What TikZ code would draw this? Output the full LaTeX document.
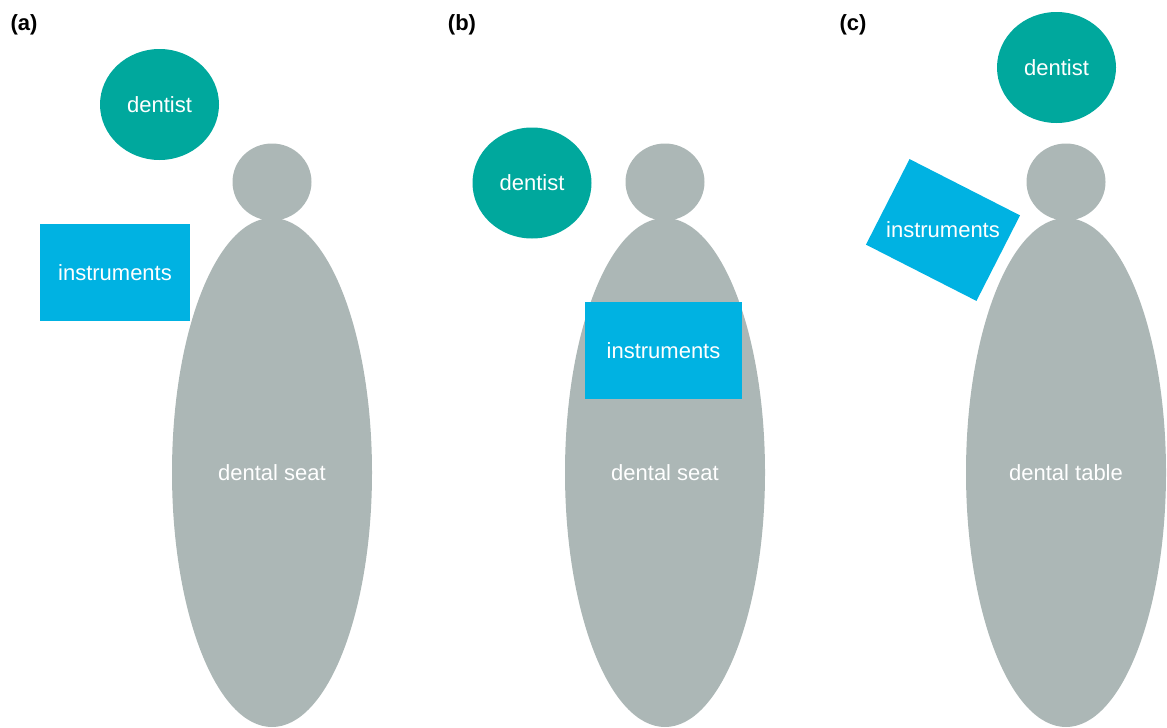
\documentclass[tikz,border=0pt]{standalone}
\usepackage{fontspec}
\setmainfont{Liberation Sans}
\usetikzlibrary{shapes.geometric}

\definecolor{dentgreen}{RGB}{0,168,157}
\definecolor{instrblue}{RGB}{0,178,226}
\definecolor{seatgray}{RGB}{172,183,182}

\tikzset{
	bigfont/.style={font=\fontsize{22}{26}\selectfont},
	seat/.style={ellipse, fill=seatgray, inner sep=0pt, minimum width=200pt, minimum height=509pt, text=white, bigfont},
	head/.style={ellipse, fill=seatgray, inner sep=0pt, minimum width=79pt, minimum height=77pt},
	dentist/.style={ellipse, fill=dentgreen, inner sep=0pt, minimum width=119pt, minimum height=111pt, text=white, bigfont},
	instr/.style={rectangle, fill=instrblue, inner sep=0pt, text=white, bigfont},
	panel/.style={font=\fontsize{22}{26}\selectfont\bfseries}
}

\begin{document}
\begin{tikzpicture}[x=1pt, y=-1pt]
\useasboundingbox (0,0) rectangle (1167,728);

% Sillas y cabezas
	\foreach \x/\n/\t in {272/A/dental seat, 665/B/dental seat, 1066/C/dental table}
	{
		\node[seat] (seat\n) at (\x,472.5) {\t};
		\node[head] (head\n) at (\x,182) {};
	}

% (a)
\node[panel] (labA) at (24,25) {(a)};
\node[dentist] (dentA) at (159.5,104.5) {dentist};
\node[instr, minimum width=150pt, minimum height=97pt] (instrA) at (115,272.5) {instruments};

% (b)
\node[panel] (labB) at (462,25) {(b)};
\node[dentist] (dentB) at (532,183) {dentist};
\node[instr, minimum width=157pt, minimum height=97pt] (instrB) at (663.5,350.5) {instruments};

% (c)
\node[panel] (labC) at (853,25) {(c)};
\node[dentist] (dentC) at (1056.5,67.5) {dentist};
\node[instr, rotate=-27, minimum width=124pt, minimum height=96pt] (instrC) at (943,230) {};
\node[text=white, bigfont] (instrCtext) at (instrC.center) {instruments};

\end{tikzpicture}
\end{document}
